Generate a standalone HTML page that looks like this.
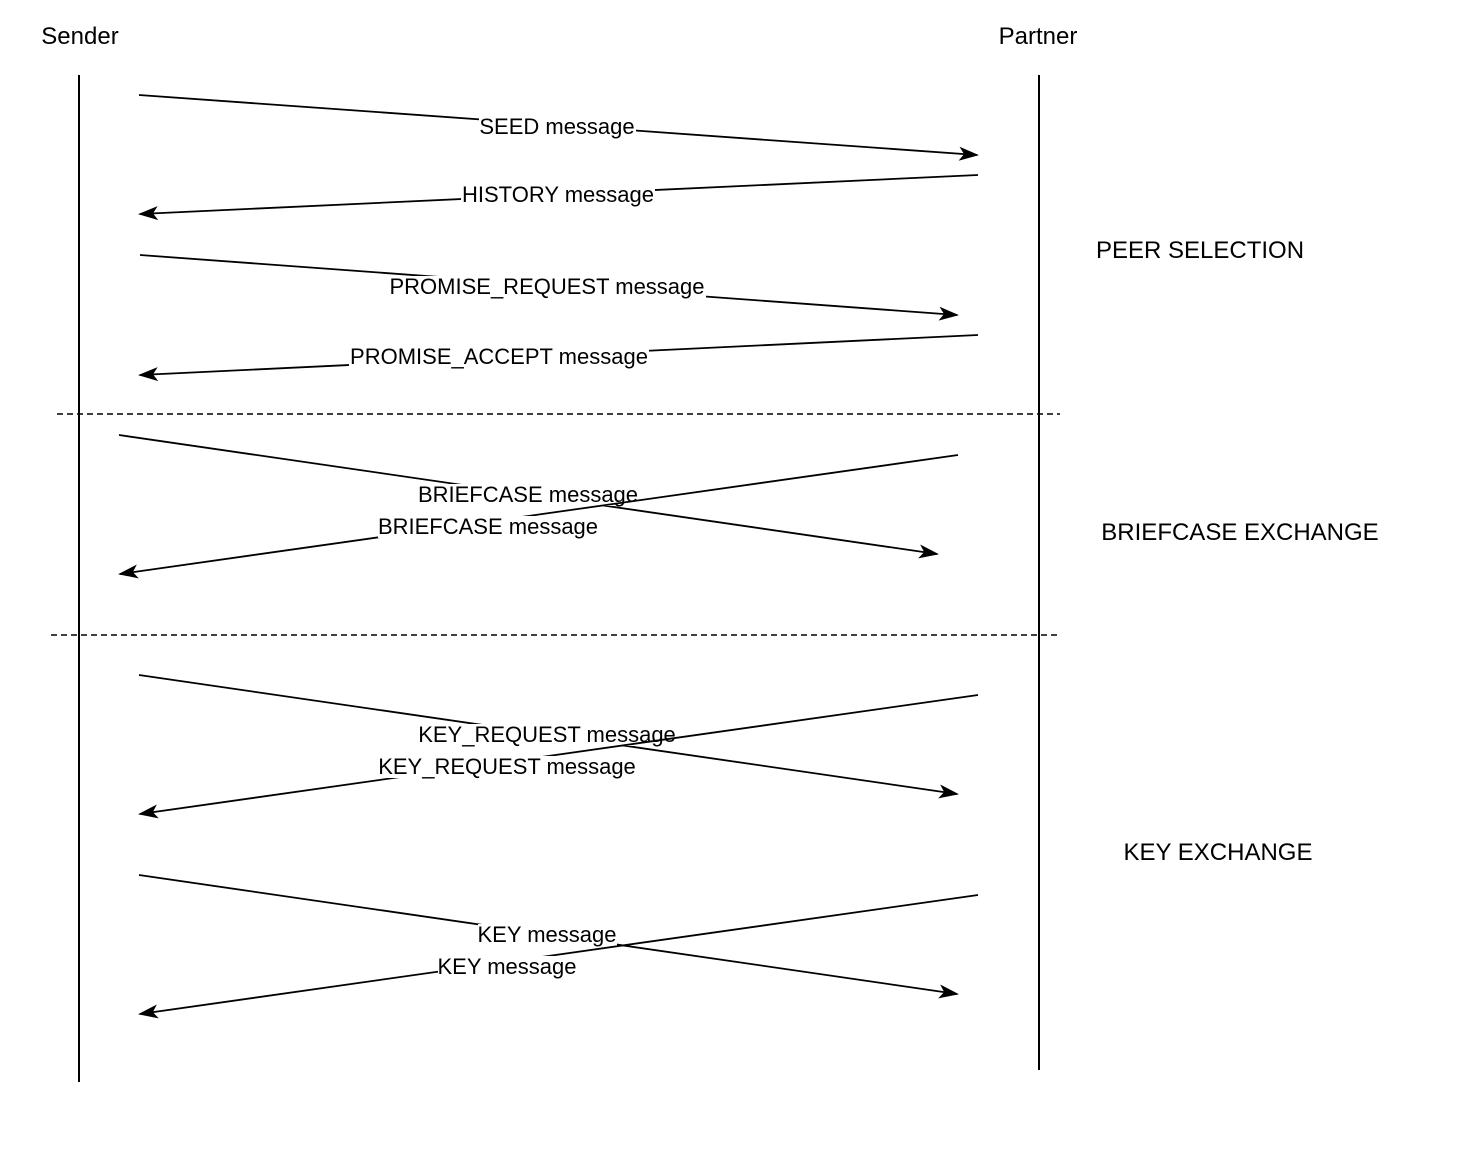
<!DOCTYPE html>
<html><head><meta charset="utf-8"><style>
html,body{margin:0;padding:0;background:#fff;}
svg text{font-family:"Liberation Sans",Arial,sans-serif;font-size:22px;fill:#000;}
svg text.big{font-size:24px;}
</style></head><body>
<svg width="1466" height="1158" viewBox="0 0 1466 1158" xmlns="http://www.w3.org/2000/svg">
<defs>
<marker id="a" markerWidth="20" markerHeight="14" refX="18" refY="7" orient="auto" markerUnits="userSpaceOnUse">
<path d="M0,0 L20,7 L0,14 L5,7 Z" fill="#000"/>
</marker>
</defs>
<text class="big" x="80" y="44" text-anchor="middle">Sender</text>
<text class="big" x="1038" y="44" text-anchor="middle">Partner</text>
<line x1="79" y1="75" x2="79" y2="1082" stroke="#000" stroke-width="2"/>
<line x1="1039" y1="75" x2="1039" y2="1070" stroke="#000" stroke-width="2"/>
<line x1="57" y1="414" x2="1060" y2="414" stroke="#000" stroke-width="1.5" stroke-dasharray="6,4"/>
<line x1="51" y1="635" x2="1060" y2="635" stroke="#000" stroke-width="1.5" stroke-dasharray="6,4"/>

<line x1="139" y1="95" x2="977" y2="155" stroke="#000" stroke-width="1.8" marker-end="url(#a)"/>
<rect x="479" y="116" width="157" height="22" fill="#fff"/><text x="557" y="134" text-anchor="middle">SEED message</text>
<line x1="978" y1="175" x2="140" y2="214" stroke="#000" stroke-width="1.8" marker-end="url(#a)"/>
<rect x="461" y="184" width="194" height="22" fill="#fff"/><text x="558" y="202" text-anchor="middle">HISTORY message</text>
<line x1="140" y1="255" x2="957" y2="315" stroke="#000" stroke-width="1.8" marker-end="url(#a)"/>
<rect x="389" y="276" width="317" height="22" fill="#fff"/><text x="547" y="294" text-anchor="middle">PROMISE_REQUEST message</text>
<line x1="978" y1="335" x2="140" y2="375" stroke="#000" stroke-width="1.8" marker-end="url(#a)"/>
<rect x="349" y="346" width="300" height="22" fill="#fff"/><text x="499" y="364" text-anchor="middle">PROMISE_ACCEPT message</text>

<line x1="119" y1="435" x2="937" y2="554" stroke="#000" stroke-width="1.8" marker-end="url(#a)"/>
<rect x="418" y="484" width="220" height="22" fill="#fff"/><text x="528" y="502" text-anchor="middle">BRIEFCASE message</text>
<line x1="958" y1="455" x2="120" y2="574" stroke="#000" stroke-width="1.8" marker-end="url(#a)"/>
<rect x="378" y="516" width="220" height="22" fill="#fff"/><text x="488" y="534" text-anchor="middle">BRIEFCASE message</text>

<line x1="139" y1="675" x2="957" y2="794" stroke="#000" stroke-width="1.8" marker-end="url(#a)"/>
<rect x="418" y="724" width="258" height="22" fill="#fff"/><text x="547" y="742" text-anchor="middle">KEY_REQUEST message</text>
<line x1="978" y1="695" x2="140" y2="814" stroke="#000" stroke-width="1.8" marker-end="url(#a)"/>
<rect x="378" y="756" width="258" height="22" fill="#fff"/><text x="507" y="774" text-anchor="middle">KEY_REQUEST message</text>

<line x1="139" y1="875" x2="957" y2="994" stroke="#000" stroke-width="1.8" marker-end="url(#a)"/>
<rect x="478" y="924" width="139" height="22" fill="#fff"/><text x="547" y="942" text-anchor="middle">KEY message</text>
<line x1="978" y1="895" x2="140" y2="1014" stroke="#000" stroke-width="1.8" marker-end="url(#a)"/>
<rect x="438" y="956" width="139" height="22" fill="#fff"/><text x="507" y="974" text-anchor="middle">KEY message</text>

<text class="big" x="1200" y="258" text-anchor="middle">PEER SELECTION</text>
<text class="big" x="1240" y="540" text-anchor="middle">BRIEFCASE EXCHANGE</text>
<text class="big" x="1218" y="860" text-anchor="middle">KEY EXCHANGE</text>
</svg>
</body></html>
